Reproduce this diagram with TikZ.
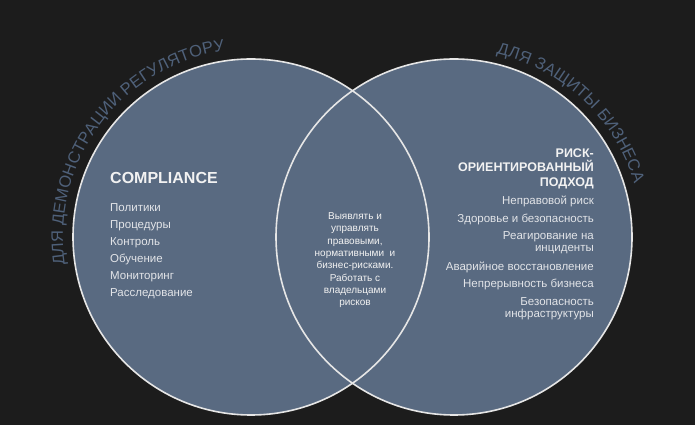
\documentclass[tikz,border=0pt]{standalone}
\usepackage{fontspec}
\setmainfont{Liberation Sans}
\usetikzlibrary{decorations.text,calc}
\definecolor{bg}{HTML}{1C1C1C}
\definecolor{disc}{HTML}{596A81}
\definecolor{arcc}{HTML}{4F617A}
\definecolor{ring}{HTML}{E6E6E6}
\definecolor{txt}{HTML}{F2F2F2}
\definecolor{itm}{HTML}{E2E4E8}
\begin{document}
\begin{tikzpicture}[x=1pt,y=1pt,
  disk/.style={fill=disc},
  rim/.style={draw=ring,line width=1.6pt},
  ttl/.style={inner sep=0pt,text=txt,font=\bfseries\fontsize{16pt}{18pt}\selectfont},
  rttl/.style={inner sep=0pt,text=txt,align=right,font=\bfseries\fontsize{12.5pt}{14.5pt}\selectfont},
  itm/.style={inner sep=0pt,text=itm,font=\fontsize{11.5pt}{11.5pt}\selectfont},
  ritm/.style={inner sep=0pt,text=itm,align=right,font=\fontsize{11.5pt}{11.5pt}\selectfont},
  midt/.style={inner sep=0pt,text=txt,align=center,font=\fontsize{10pt}{12.3pt}\selectfont},
  arctext/.style={decorate,decoration={text along path,text={|\fontsize{16.5pt}{18pt}\selectfont|#1},text align=fit to path,text color=arcc}}
]
\fill[bg] (0,0) rectangle (695,425);
\useasboundingbox (0,0) rectangle (695,425);
\coordinate (L) at (251,188);
\coordinate (R) at (454,188);
\fill[disk] (L) circle[radius=178pt];
\fill[disk] (R) circle[radius=178pt];
\draw[rim] (L) circle[radius=178pt];
\draw[rim] (R) circle[radius=178pt];

% arc texts
\path[arctext={ДЛЯ ДЕМОНСТРАЦИИ РЕГУЛЯТОРУ}] ($(L)+(188.5:188pt)$) arc[start angle=188.5,end angle=98,radius=188pt];
\path[arctext={ДЛЯ ЗАЩИТЫ БИЗНЕСА}] ($(R)+(77:188pt)$) arc[start angle=77,end angle=16.5,radius=188pt];

% left
\node[ttl,anchor=west] (comp) at (110,247) {COMPLIANCE};
\foreach \t [count=\i] in {Политики,Процедуры,Контроль,Обучение,Мониторинг,Расследование}
  \node[itm,anchor=base west] (l\i) at (110,{425-212-16.9*(\i-1)}) {\t};

% middle
\node[midt,anchor=north] (mid) at (355,{425-212.5}) {Выявлять и\\управлять\\правовыми,\\нормативными~ и\\бизнес-рисками.\\Работать с\\владельцами\\рисков};

% right
\node[rttl,anchor=north east] (rt) at (594,{425-148.5}) {РИСК-\\ОРИЕНТИРОВАННЫЙ\\ПОДХОД};
\node[ritm,anchor=base east] (r1) at (594,{425-205}) {Неправовой риск};
\node[ritm,anchor=base east] (r2) at (594,{425-223}) {Здоровье и безопасность};
\node[ritm,anchor=north east] (r3) at (594,{425-231.8}) {Реагирование на\\инциденты};
\node[ritm,anchor=base east] (r4) at (594,{425-271}) {Аварийное восстановление};
\node[ritm,anchor=base east] (r5) at (594,{425-287.5}) {Непрерывность бизнеса};
\node[ritm,anchor=north east] (r6) at (594,{425-297.8}) {Безопасность\\инфраструктуры};
\end{tikzpicture}
\end{document}
